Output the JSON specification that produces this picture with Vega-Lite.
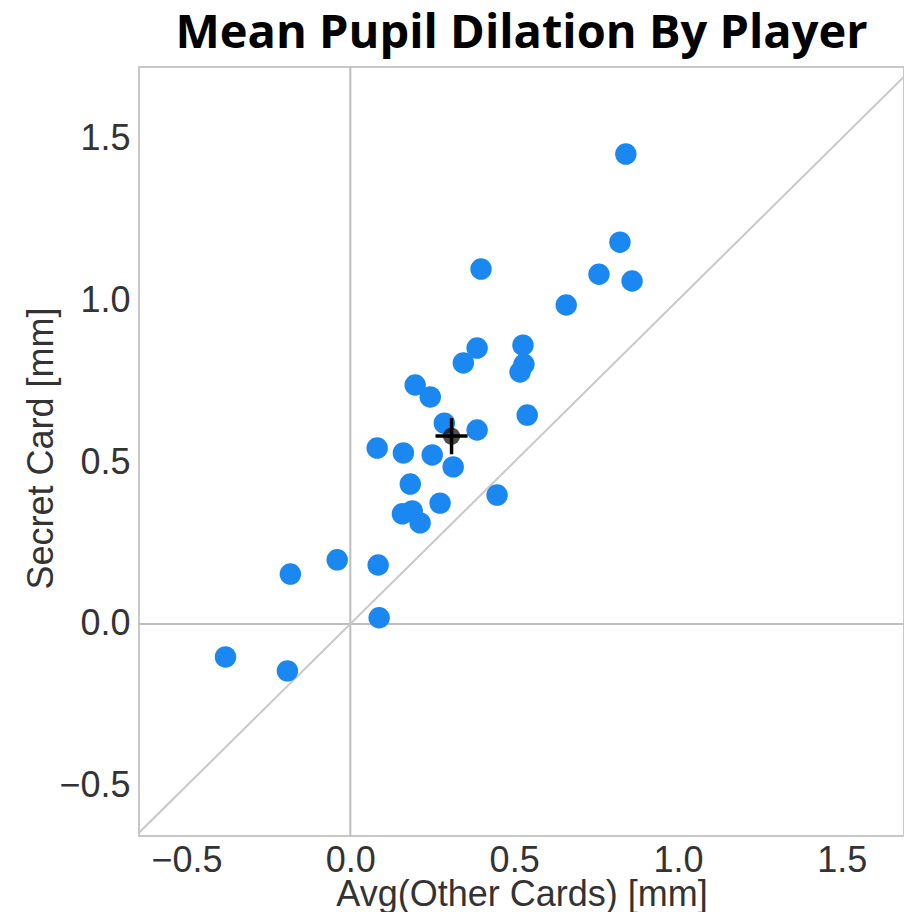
{
  "$schema": "https://vega.github.io/schema/vega-lite/v6.json",
  "autosize": "none",
  "padding": {"left": 139, "top": 67, "right": 0, "bottom": 76},
  "width": 765,
  "height": 769,
  "background": "white",
  "title": {
    "text": "Mean Pupil Dilation By Player",
    "font": "Open Sans",
    "fontWeight": "bold",
    "fontSize": 47,
    "color": "#000000",
    "anchor": "middle",
    "frame": "group",
    "baseline": "alphabetic",
    "offset": -29
  },
  "config": {
    "view": {"stroke": "#c8c8c8", "strokeWidth": 2},
    "axis": {
      "grid": false,
      "ticks": false,
      "domain": false,
      "labelFont": "Liberation Sans",
      "labelFontSize": 36,
      "labelColor": "#333333",
      "titleFont": "Liberation Sans",
      "titleFontSize": 36,
      "titleFontWeight": "normal",
      "titleColor": "#333333"
    }
  },
  "datasets": {
    "players": [
      {"avg_other": 0.841, "secret": 1.451},
      {"avg_other": 0.823, "secret": 1.179},
      {"avg_other": 0.860, "secret": 1.059},
      {"avg_other": 0.759, "secret": 1.080},
      {"avg_other": 0.659, "secret": 0.985},
      {"avg_other": 0.399, "secret": 1.096},
      {"avg_other": 0.527, "secret": 0.861},
      {"avg_other": 0.530, "secret": 0.802},
      {"avg_other": 0.518, "secret": 0.778},
      {"avg_other": 0.540, "secret": 0.645},
      {"avg_other": 0.387, "secret": 0.852},
      {"avg_other": 0.345, "secret": 0.806},
      {"avg_other": 0.198, "secret": 0.738},
      {"avg_other": 0.244, "secret": 0.701},
      {"avg_other": 0.287, "secret": 0.620},
      {"avg_other": 0.387, "secret": 0.599},
      {"avg_other": 0.082, "secret": 0.543},
      {"avg_other": 0.162, "secret": 0.528},
      {"avg_other": 0.250, "secret": 0.522},
      {"avg_other": 0.314, "secret": 0.485},
      {"avg_other": 0.183, "secret": 0.432},
      {"avg_other": 0.448, "secret": 0.398},
      {"avg_other": 0.274, "secret": 0.373},
      {"avg_other": 0.159, "secret": 0.340},
      {"avg_other": 0.189, "secret": 0.349},
      {"avg_other": 0.213, "secret": 0.312},
      {"avg_other": -0.183, "secret": 0.154},
      {"avg_other": -0.040, "secret": 0.198},
      {"avg_other": 0.085, "secret": 0.182},
      {"avg_other": 0.088, "secret": 0.019},
      {"avg_other": -0.381, "secret": -0.102},
      {"avg_other": -0.192, "secret": -0.145}
    ],
    "mean": [
      {"mx": 0.309, "my": 0.580, "mx_lo": 0.260, "mx_hi": 0.358, "my_lo": 0.524, "my_hi": 0.636}
    ],
    "zero": [{"v": 0}],
    "diag": [{"d": -0.645}, {"d": 1.69}]
  },
  "layer": [
    {
      "data": {"name": "zero"},
      "mark": {"type": "rule", "color": "#bdbdbd", "strokeWidth": 2},
      "encoding": {
        "x": {"field": "v", "type": "quantitative", "scale": {"domain": [-0.645, 1.69], "nice": false, "zero": false},
          "axis": {"values": [-0.5, 0, 0.5, 1, 1.5], "format": ".1f", "title": "Avg(Other Cards) [mm]", "labelBaseline": "alphabetic", "labelPadding": 35, "titleBaseline": "alphabetic", "titleY": 69}}
      }
    },
    {
      "data": {"name": "zero"},
      "mark": {"type": "rule", "color": "#bdbdbd", "strokeWidth": 2},
      "encoding": {
        "y": {"field": "v", "type": "quantitative", "scale": {"domain": [-0.655, 1.72], "nice": false, "zero": false},
          "axis": {"values": [-0.5, 0, 0.5, 1, 1.5], "format": ".1f", "title": "Secret Card [mm]", "labelPadding": 9, "titleBaseline": "alphabetic", "titleX": -87, "titleY": 381}}
      }
    },
    {
      "data": {"name": "diag"},
      "mark": {"type": "line", "color": "#c8c8c8", "strokeWidth": 2, "clip": true},
      "encoding": {
        "x": {"field": "d", "type": "quantitative", "scale": {"domain": [-0.645, 1.69], "nice": false, "zero": false}},
        "y": {"field": "d", "type": "quantitative", "scale": {"domain": [-0.655, 1.72], "nice": false, "zero": false}}
      }
    },
    {
      "data": {"name": "players"},
      "mark": {"type": "circle", "color": "#1b87f0", "opacity": 1, "size": 460},
      "encoding": {
        "x": {"field": "avg_other", "type": "quantitative", "scale": {"domain": [-0.645, 1.69], "nice": false, "zero": false}},
        "y": {"field": "secret", "type": "quantitative", "scale": {"domain": [-0.655, 1.72], "nice": false, "zero": false}}
      }
    },
    {
      "data": {"name": "mean"},
      "mark": {"type": "circle", "color": "#000000", "opacity": 0.7, "size": 300},
      "encoding": {
        "x": {"field": "mx", "type": "quantitative"},
        "y": {"field": "my", "type": "quantitative"}
      }
    },
    {
      "data": {"name": "mean"},
      "mark": {"type": "rule", "color": "#000000", "strokeWidth": 3.5},
      "encoding": {
        "x": {"field": "mx_lo", "type": "quantitative"},
        "x2": {"field": "mx_hi"},
        "y": {"field": "my", "type": "quantitative"}
      }
    },
    {
      "data": {"name": "mean"},
      "mark": {"type": "rule", "color": "#000000", "strokeWidth": 3.5},
      "encoding": {
        "x": {"field": "mx", "type": "quantitative"},
        "y": {"field": "my_lo", "type": "quantitative"},
        "y2": {"field": "my_hi"}
      }
    }
  ]
}
